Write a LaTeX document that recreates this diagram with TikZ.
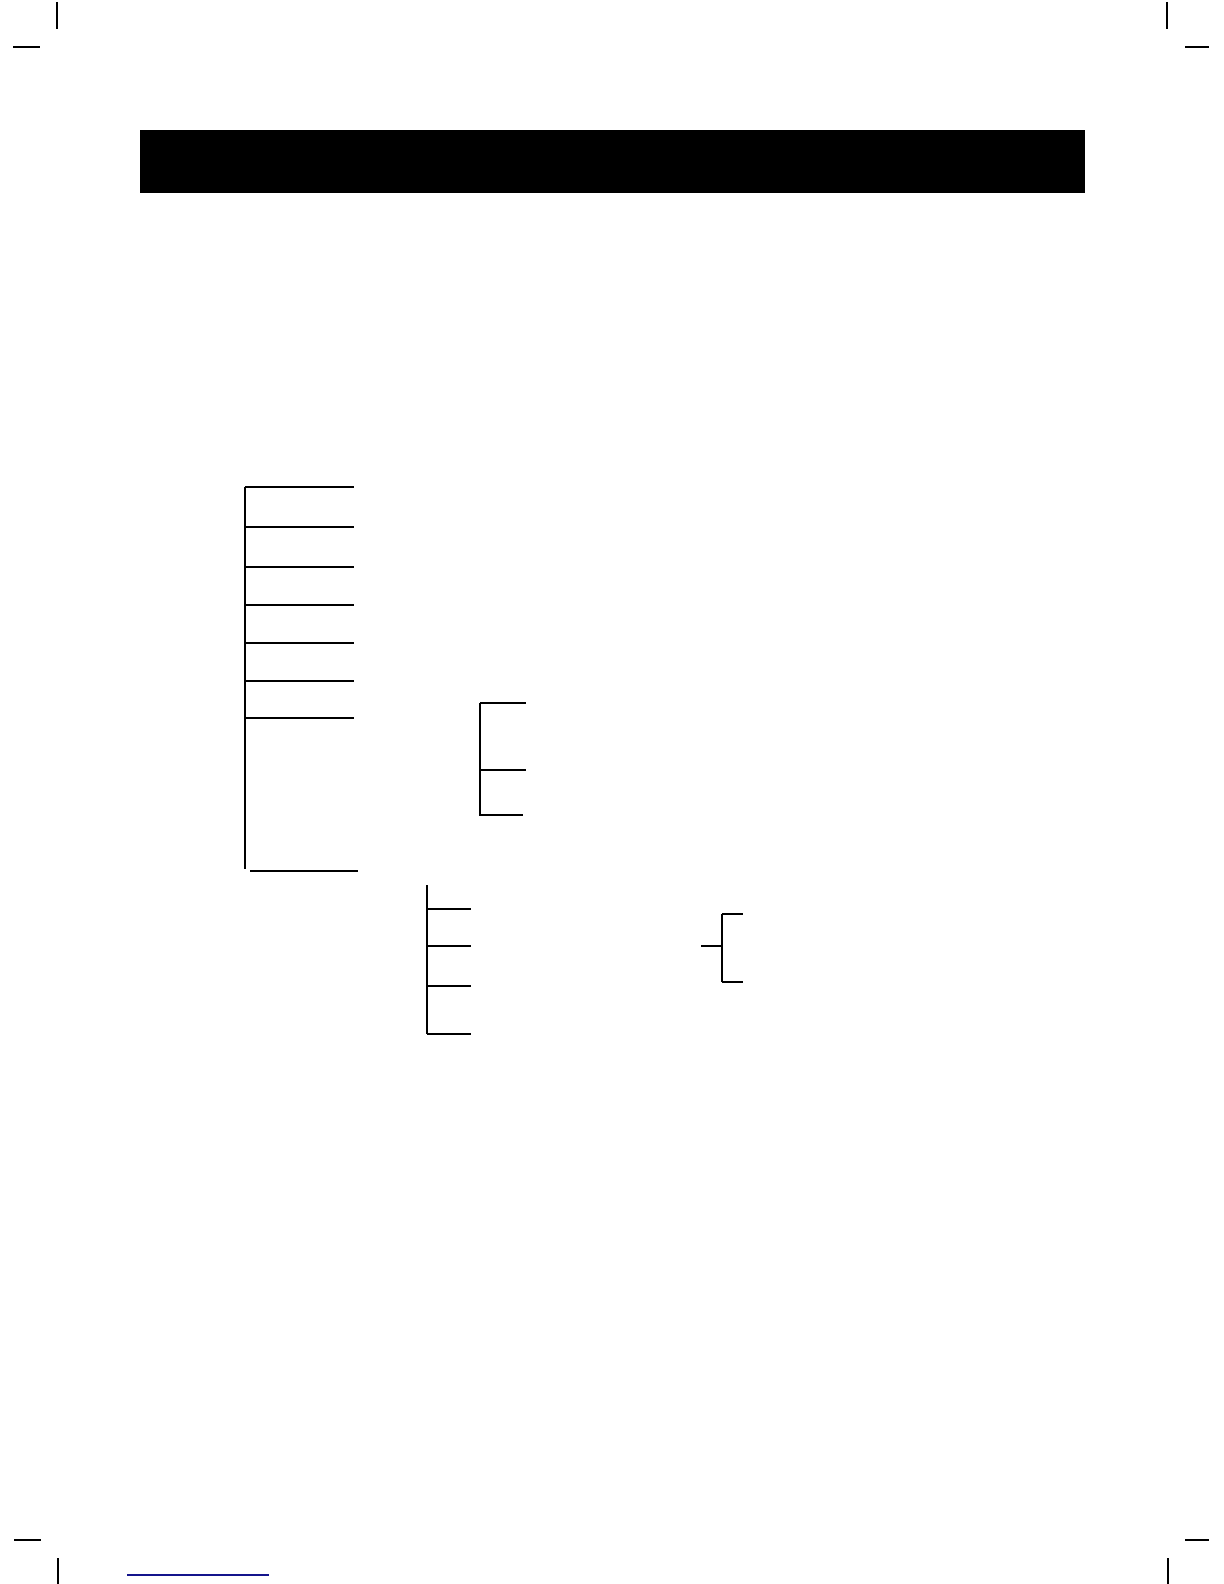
\documentclass[tikz,border=0pt]{standalone}
\begin{document}
\begin{tikzpicture}[x=0.5pt,y=-0.5pt,
  branch/.style={line width=1.3pt,black},
  crop/.style={line width=1.2pt,black},
  bar/.style={fill=black,draw=none},
  link/.style={line width=0.7pt,color={rgb,255:red,20;green,20;blue,140}}]
\useasboundingbox (0,0) rectangle (1224,1584);
\fill[white] (0,0) rectangle (1224,1584);
% crop marks
\draw[crop] (57,2) -- (57,29);
\draw[crop] (13,47) -- (40,47);
\draw[crop] (1167,2) -- (1167,29);
\draw[crop] (1185,47) -- (1209,47);
\draw[crop] (14,1540) -- (41,1540);
\draw[crop] (58,1558) -- (58,1584);
\draw[crop] (1185,1540) -- (1209,1540);
\draw[crop] (1168,1558) -- (1168,1584);
% title bar
\node[bar, minimum width=472.5pt, minimum height=31.5pt, inner sep=0pt, anchor=north west] (title) at (140,130) {};
% tree 1
\coordinate (t1top) at (245,487);
\coordinate (t1bot) at (245,869);
\draw[branch] (t1top) -- (t1bot);
\foreach \y/\n in {487/a,527/b,567/c,605/d,643/e,681/f,718/g}{
  \coordinate (t1\n) at (245,\y);
  \coordinate (t1\n e) at (354,\y);
  \draw[branch] (t1\n) -- (t1\n e);
}
\coordinate (t1h) at (250,871);
\coordinate (t1he) at (358,871);
\draw[branch] (t1h) -- (t1he);
% tree 2
\coordinate (t2top) at (480,703);
\coordinate (t2bot) at (480,816);
\draw[branch] (t2top) -- (t2bot);
\coordinate (t2ae) at (526,703);
\coordinate (t2b) at (480,770);
\coordinate (t2be) at (526,770);
\coordinate (t2c) at (480,815);
\coordinate (t2ce) at (523,815);
\draw[branch] (t2top) -- (t2ae);
\draw[branch] (t2b) -- (t2be);
\draw[branch] (t2c) -- (t2ce);
% tree 3
\coordinate (t3top) at (427,885);
\coordinate (t3bot) at (427,1034);
\draw[branch] (t3top) -- (t3bot);
\foreach \y/\n in {909/a,946/b,986/c,1034/d}{
  \coordinate (t3\n) at (427,\y);
  \coordinate (t3\n e) at (471,\y);
  \draw[branch] (t3\n) -- (t3\n e);
}
% tree 4
\coordinate (t4top) at (722,914);
\coordinate (t4bot) at (722,982);
\coordinate (t4mid) at (722,946);
\coordinate (t4in) at (701,946);
\coordinate (t4ae) at (743,914);
\coordinate (t4be) at (743,982);
\draw[branch] (t4top) -- (t4bot);
\draw[branch] (t4top) -- (t4ae);
\draw[branch] (t4bot) -- (t4be);
\draw[branch] (t4in) -- (t4mid);
% link underline
\coordinate (lk1) at (127,1575);
\coordinate (lk2) at (269,1575);
\draw[link] (lk1) -- (lk2);
\end{tikzpicture}
\end{document}
